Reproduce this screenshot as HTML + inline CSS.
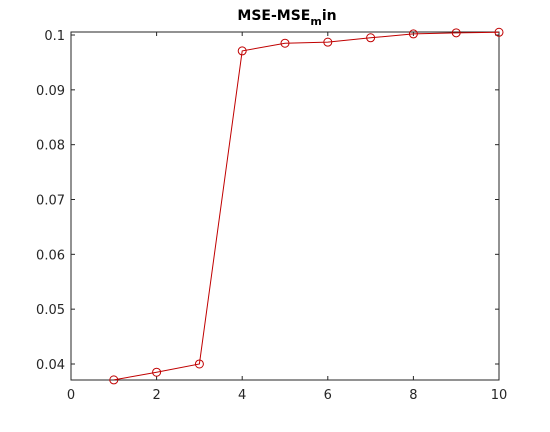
<!DOCTYPE html>
<html><head><meta charset="utf-8"><style>
body{margin:0;background:#fff;width:550px;height:427px;overflow:hidden}
svg{font-family:"DejaVu Sans","Liberation Sans",sans-serif}
</style></head><body>
<svg id="chart" width="550" height="427">
<text x="287" y="20" text-anchor="middle" font-weight="bold" font-size="14">MSE-MSE<tspan font-size="11" dy="5">m</tspan><tspan dy="-5">in</tspan></text>
<g id="axes"></g><g id="series"></g>
</svg>
<script>
const xValues=[1,2,3,4,5,6,7,8,9,10];
const yValues=[0.0371,0.0385,0.0400,0.0971,0.0985,0.0987,0.0995,0.1002,0.1004,0.1005];
const xTicks=[0,2,4,6,8,10];
const yTicks=[0.04,0.05,0.06,0.07,0.08,0.09,0.1];
const yTickLabels=["0.04","0.05","0.06","0.07","0.08","0.09","0.1"];
const L=71,R=499,T=32,B=380,xmin=0,xmax=10,ymin=0.03708,ymax=0.10055;
const sx=v=>L+(v-xmin)/(xmax-xmin)*(R-L);
const sy=v=>B-(v-ymin)/(ymax-ymin)*(B-T);
const NS="http://www.w3.org/2000/svg";
const ax=document.getElementById('axes'),se=document.getElementById('series');
function mk(tag,attrs,parent){const e=document.createElementNS(NS,tag);for(const k in attrs)e.setAttribute(k,attrs[k]);parent.appendChild(e);return e;}
const box=mk('rect',{x:L,y:T,width:R-L,height:B-T,fill:'none',stroke:'#262626','stroke-width':1},ax);


xTicks.forEach(t=>{const x=sx(t);
mk('line',{x1:x,x2:x,y1:B,y2:B-4,stroke:'#262626'},ax);
mk('line',{x1:x,x2:x,y1:T,y2:T+4,stroke:'#262626'},ax);
const tx=mk('text',{x:x,y:B+19,'text-anchor':'middle','font-size':13,fill:'#262626'},ax);tx.textContent=t;

});
yTicks.forEach((t,i)=>{const y=sy(t);
mk('line',{x1:L,x2:L+4,y1:y,y2:y,stroke:'#262626'},ax);
mk('line',{x1:R,x2:R-4,y1:y,y2:y,stroke:'#262626'},ax);
const tx=mk('text',{x:L-6,y:y+5,'text-anchor':'end','font-size':13,fill:'#262626'},ax);tx.textContent=yTickLabels[i];

});
const pl=mk('polyline',{points:xValues.map((v,i)=>sx(v)+','+sy(yValues[i])).join(' '),fill:'none',stroke:'#c00000','stroke-width':1},se);


xValues.forEach((v,i)=>{const c=mk('circle',{cx:sx(v),cy:sy(yValues[i]),r:4,fill:'none',stroke:'#c00000','stroke-width':1},se);

});
</script>
</body></html>
